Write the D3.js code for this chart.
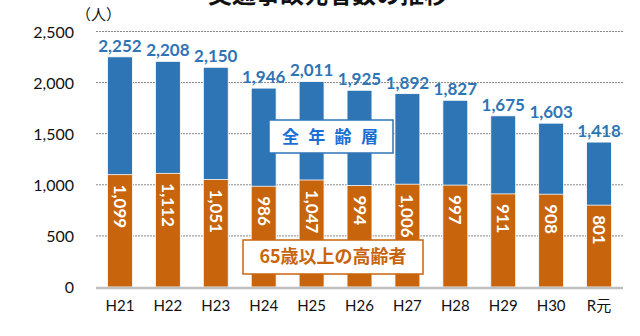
<!DOCTYPE html>
<html><head><meta charset="utf-8">
<script src="https://cdn.jsdelivr.net/npm/d3@7/dist/d3.min.js"></script>
<style>body{margin:0;background:#fff}svg{display:block}</style>
</head><body>
<svg id="c" width="640" height="336"></svg>
<script>
const categories = ["H21","H22","H23","H24","H25","H26","H27","H28","H29","H30","R元"];
const totalDeaths = [2252,2208,2150,1946,2011,1925,1892,1827,1675,1603,1418];
const elderlyDeaths = [1099,1112,1051,986,1047,994,1006,997,911,908,801];
const yTicks = [0,500,1000,1500,2000,2500];
const title = "交通事故死者数の推移";
const unitLabel = "（人）";
const legendAll = "全年齢層";
const legendElderly = "65歳以上の高齢者";

const svg = d3.select("#c");
const blue = "#2E75B6", orange = "#C8650C";
const numFont = "Lato, 'Open Sans', sans-serif";
const jpFont = "'Noto Sans CJK JP', sans-serif";

const x = d3.scaleBand().domain(categories).range([96, 623]).paddingInner(0.48).paddingOuter(0.24);
const y = d3.scaleLinear().domain([0, 2500]).range([287, 31.5]);

svg.append("text").attr("x", 328).attr("y", 3).attr("text-anchor", "middle")
  .attr("font-family", jpFont).attr("font-weight", "bold").attr("font-size", 24).attr("fill", "#111").text(title);

// grid
svg.append("g").selectAll("line").data(yTicks.filter(d => d > 0)).join("line")
  .attr("x1", 96).attr("x2", 623).attr("y1", d => y(d)).attr("y2", d => y(d))
  .attr("stroke", "#888").attr("stroke-width", 1).attr("stroke-dasharray", "2,1");

// y axis labels
const yAxis = d3.axisLeft(y).tickValues(yTicks).tickFormat(d3.format(",")).tickSize(0).tickPadding(0);
const ya = svg.append("g").attr("transform", "translate(74,0)").call(yAxis);
ya.select(".domain").remove();
ya.selectAll("text").attr("font-family", numFont).attr("font-size", 16).attr("fill", "#111").attr("dy", "0.35em");

svg.append("text").attr("x", 76).attr("y", 20).attr("font-family", jpFont).attr("font-size", 15).attr("fill", "#111").text(unitLabel);

const data = categories.map((c, i) => ({c, t: totalDeaths[i], e: elderlyDeaths[i]}));

// total bars (blue), orange overlaid
svg.append("g").selectAll("rect").data(data).join("rect")
  .attr("x", d => x(d.c)).attr("width", x.bandwidth())
  .attr("y", d => y(d.t)).attr("height", d => y(0) - y(d.t))
  .attr("fill", blue).attr("stroke", "#fff").attr("stroke-width", 0.8);
svg.append("g").selectAll("rect").data(data).join("rect")
  .attr("x", d => x(d.c)).attr("width", x.bandwidth())
  .attr("y", d => y(d.e)).attr("height", d => y(0) - y(d.e))
  .attr("fill", orange).attr("stroke", "#fff").attr("stroke-width", 0.8);

// baseline
svg.append("line").attr("x1", 96).attr("x2", 623).attr("y1", y(0) + 1).attr("y2", y(0) + 1)
  .attr("stroke", "#bfbfbf").attr("stroke-width", 2.5);

// top labels
svg.append("g").selectAll("text").data(data).join("text")
  .attr("x", d => x(d.c) + x.bandwidth() / 2).attr("y", d => y(d.t) - 5)
  .attr("text-anchor", "middle").attr("font-family", numFont).attr("font-weight", "bold")
  .attr("font-size", 17).attr("fill", blue).text(d => d3.format(",")(d.t));

// rotated elderly labels
svg.append("g").selectAll("text").data(data).join("text")
  .attr("transform", d => `translate(${x(d.c) + x.bandwidth() / 2},${y(d.e) + 10}) rotate(90)`)
  .attr("dy", "0.35em").attr("font-family", numFont).attr("font-weight", "bold")
  .attr("font-size", 17).attr("fill", "#fff").text(d => d3.format(",")(d.e));

// x labels
svg.append("g").selectAll("text").data(categories).join("text")
  .attr("x", d => x(d) + x.bandwidth() / 2).attr("y", 311).attr("text-anchor", "middle")
  .attr("font-family", "Lato, 'Noto Sans CJK JP', sans-serif").attr("font-size", 15).attr("fill", "#111").text(d => d);

// legend boxes
svg.append("rect").attr("x", 269).attr("y", 120).attr("width", 124).attr("height", 33)
  .attr("fill", "#fff").attr("stroke", blue).attr("stroke-width", 1.5);
svg.append("g").selectAll("text").data(Array.from(legendAll)).join("text")
  .attr("x", (d, i) => 290.5 + i * 26.3).attr("y", 137).attr("text-anchor", "middle").attr("dy", "0.35em")
  .attr("font-family", jpFont).attr("font-weight", "bold").attr("font-size", 17)
  .attr("fill", "#1A6FD6").text(d => d);

svg.append("rect").attr("x", 243).attr("y", 240).attr("width", 180).attr("height", 34)
  .attr("fill", "#fff").attr("stroke", orange).attr("stroke-width", 1.5);
svg.append("text").attr("x", 333).attr("y", 257).attr("text-anchor", "middle").attr("dy", "0.35em")
  .attr("font-family", jpFont).attr("font-weight", "bold").attr("font-size", 18).attr("fill", orange).text(legendElderly);
</script>
</body></html>
